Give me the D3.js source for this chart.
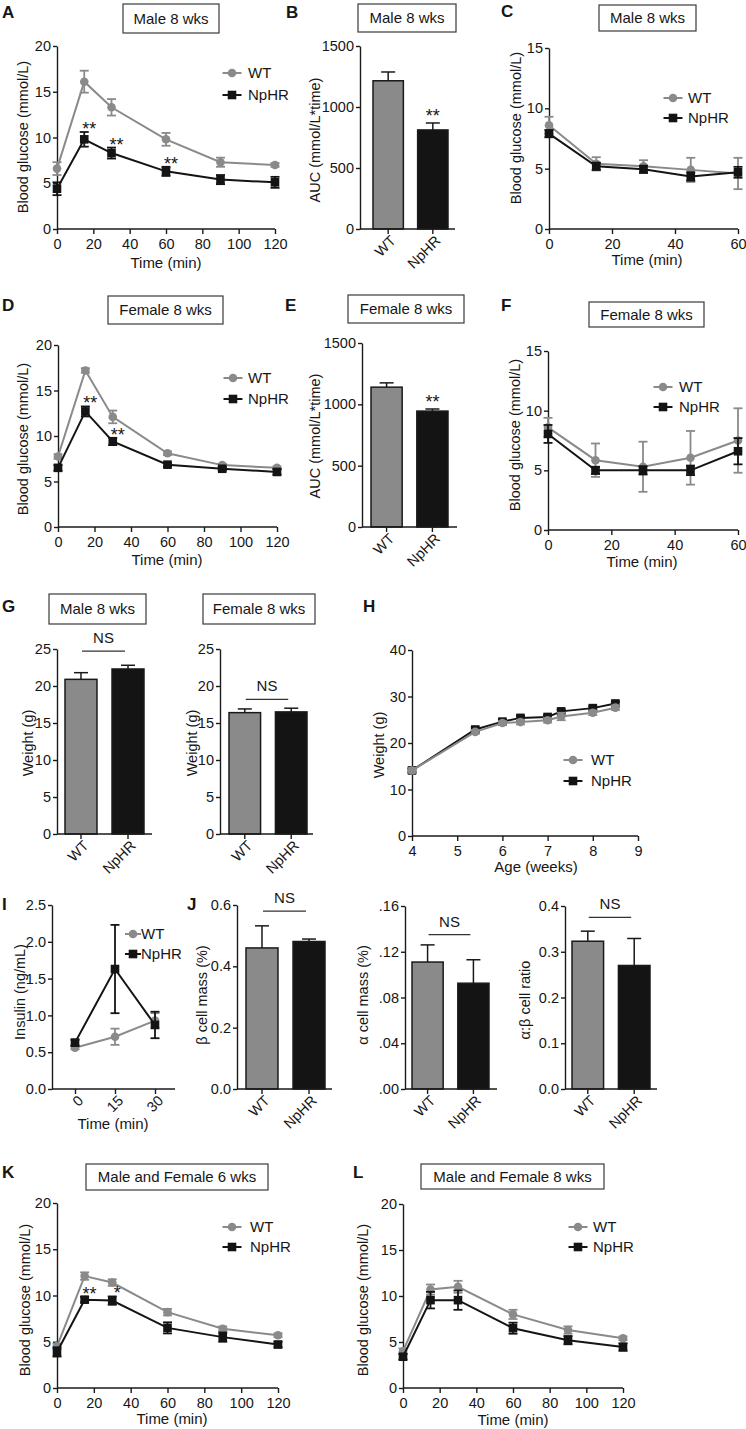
<!DOCTYPE html>
<html><head><meta charset="utf-8">
<script src="https://cdn.jsdelivr.net/npm/d3@7"></script>
<style>
body{margin:0;background:#fff;}
svg text{font-family:"Liberation Sans",Arial,Helvetica,sans-serif;fill:#161616;}
</style></head><body>
<svg id="fig" width="746" height="1429"></svg>
<script>
// ---------------- DATA ----------------
const groups = ["WT", "NpHR"];
const gttTimes = [0, 15, 30, 60, 90, 120];
const ittTimes = [0, 15, 30, 45, 60];

// A  GTT male 8 wks
const gttMale8WT = [6.6, 16.1, 13.3, 9.8, 7.3, 7.0];
const gttMale8WTErr = [0.7, 1.2, 0.9, 0.7, 0.5, 0.2];
const gttMale8NpHR = [4.4, 9.8, 8.3, 6.3, 5.4, 5.1];
const gttMale8NpHRErr = [0.7, 0.8, 0.6, 0.5, 0.5, 0.6];
const starsA = ["", "**", "**", "**", "", ""];
// B  AUC male
const aucMale8 = [1215, 812];
const aucMale8Err = [72, 57];
const starsB = ["", "**"];
// C  ITT male
const ittMale8WT = [8.6, 5.4, 5.2, 4.9, 4.6];
const ittMale8WTErr = [0.7, 0.55, 0.5, 1.0, 1.3];
const ittMale8NpHR = [7.9, 5.2, 4.95, 4.35, 4.7];
const ittMale8NpHRErr = [0.3, 0.3, 0.3, 0.35, 0.45];
// D  GTT female
const gttFemale8WT = [7.75, 17.2, 12.1, 8.1, 6.8, 6.5];
const gttFemale8WTErr = [0.25, 0.25, 0.7, 0.2, 0.15, 0.15];
const gttFemale8NpHR = [6.5, 12.7, 9.4, 6.85, 6.4, 6.05];
const gttFemale8NpHRErr = [0.3, 0.55, 0.4, 0.2, 0.2, 0.3];
const starsD = ["", "**", "**", "", "", ""];
// E  AUC female
const aucFemale8 = [1140, 945];
const aucFemale8Err = [35, 17];
const starsE = ["", "**"];
// F  ITT female
const ittFemale8WT = [8.6, 5.85, 5.3, 6.05, 7.5];
const ittFemale8WTErr = [0.8, 1.4, 2.1, 2.25, 2.7];
const ittFemale8NpHR = [8.05, 5.0, 5.0, 5.0, 6.6];
const ittFemale8NpHRErr = [0.75, 0.3, 0.35, 0.4, 1.1];
// G  body weight
const weightMale8 = [20.9, 22.3];
const weightMale8Err = [0.9, 0.5];
const weightFemale8 = [16.4, 16.5];
const weightFemale8Err = [0.5, 0.5];
// H  weight curve
const ages = [4, 5.4, 6, 6.4, 7, 7.3, 8, 8.5];
const weightWT = [14.1, 22.4, 24.3, 24.5, 24.9, 25.7, 26.5, 27.6];
const weightWTErr = [0.5, 0.4, 0.4, 0.5, 0.5, 0.8, 0.5, 0.5];
const weightNpHR = [14.1, 22.9, 24.6, 25.4, 25.6, 26.8, 27.5, 28.5];
const weightNpHRErr = [0.4, 0.4, 0.4, 0.4, 0.4, 0.4, 0.4, 0.4];
// I  insulin
const insulinTimes = ["0", "15", "30"];
const insulinWT = [0.56, 0.71, 0.93];
const insulinWTErr = [0.02, 0.11, 0.1];
const insulinNpHR = [0.63, 1.63, 0.87];
const insulinNpHRErr = [0.04, 0.6, 0.18];
// J  islet
const betaMass = [0.46, 0.481];
const betaMassErr = [0.072, 0.008];
const alphaMass = [0.111, 0.0925];
const alphaMassErr = [0.015, 0.0205];
const abRatio = [0.323, 0.27];
const abRatioErr = [0.022, 0.059];
// K  GTT mixed 6 wks
const gttMix6WT = [4.5, 12.1, 11.4, 8.2, 6.4, 5.7];
const gttMix6WTErr = [0.3, 0.4, 0.35, 0.35, 0.25, 0.2];
const gttMix6NpHR = [3.9, 9.55, 9.45, 6.5, 5.5, 4.7];
const gttMix6NpHRErr = [0.5, 0.3, 0.45, 0.6, 0.5, 0.3];
const starsK = ["", "**", "*", "", "", ""];
// L  GTT mixed 8 wks
const gttMix8WT = [4.0, 10.7, 11.0, 8.0, 6.3, 5.4];
const gttMix8WTErr = [0.3, 0.55, 0.65, 0.5, 0.4, 0.2];
const gttMix8NpHR = [3.4, 9.55, 9.55, 6.5, 5.2, 4.45];
const gttMix8NpHRErr = [0.3, 0.9, 1.05, 0.6, 0.45, 0.4];

// tick values
const gttTicks = [0, 20, 40, 60, 80, 100, 120];
const glucTicks20 = [0, 5, 10, 15, 20];
const glucTicks15 = [0, 5, 10, 15];
const ittTicks = [0, 20, 40, 60];
const aucTicks = [0, 500, 1000, 1500];
const weightTicks = [0, 5, 10, 15, 20, 25];
const ageTicks = [4, 5, 6, 7, 8, 9];
const weightCurveTicks = [0, 10, 20, 30, 40];
const insulinTicks = [0, 0.5, 1.0, 1.5, 2.0, 2.5];
const betaTicks = [0, 0.2, 0.4, 0.6];
const alphaTicks = [0, 0.04, 0.08, 0.12, 0.16];
const ratioTicks = [0, 0.1, 0.2, 0.3, 0.4];

// ---------------- DRAWING ----------------
const svg = d3.select("#fig");
const INK = "#1a1a1a", GRAY = "#8a8a8a", BLACK = "#141414";
const TICK_FS = 14.5;

function styleAxis(g) {
  g.select(".domain").attr("stroke", INK).attr("stroke-width", 1.4);
  g.selectAll(".tick line").attr("stroke", INK).attr("stroke-width", 1.4);
  g.selectAll(".tick text").attr("font-size", TICK_FS).attr("fill", INK)
    .attr("font-family", '"Liberation Sans",Arial,sans-serif');
}
function titleBox(x, y, w, h, t) {
  svg.append("rect").attr("x", x).attr("y", y).attr("width", w).attr("height", h)
    .attr("fill", "#fff").attr("stroke", "#3a3a3a").attr("stroke-width", 1.2);
  svg.append("text").attr("x", x + w / 2).attr("y", y + h / 2).attr("dy", "0.36em")
    .attr("text-anchor", "middle").attr("font-size", 15).text(t);
}
function letter(x, y, t) {
  svg.append("text").attr("x", x).attr("y", y).attr("font-size", 17).attr("font-weight", "bold").text(t);
}
function yTitle(x, y, t) {
  svg.append("text").attr("transform", `translate(${x},${y}) rotate(-90)`)
    .attr("text-anchor", "middle").attr("dy", "0.35em").attr("font-size", 14.5).text(t);
}
function xTitle(x, y, t) {
  svg.append("text").attr("x", x).attr("y", y).attr("text-anchor", "middle").attr("font-size", 15).text(t);
}
function rotateTicks(g) {
  g.selectAll(".tick text").attr("y", 0).attr("dy", "0.35em").attr("text-anchor", "end")
    .attr("transform", "translate(5,9) rotate(-45)");
}
function marker(g, shape, cx, cy, color) {
  if (shape === "circle") g.append("circle").attr("cx", cx).attr("cy", cy).attr("r", 4.3).attr("fill", color);
  else g.append("rect").attr("x", cx - 4.3).attr("y", cy - 4.3).attr("width", 8.6).attr("height", 8.6).attr("fill", color);
}

function linePanel(p) {
  const g = svg.append("g");
  const x = p.xScale;
  const y = d3.scaleLinear().domain(p.yDomain).range([p.yBot, p.yTop]);
  const gx = g.append("g").attr("transform", `translate(0,${p.yBot})`)
    .call(d3.axisBottom(x).tickValues(p.xTicks).tickSize(5).tickPadding(5).tickSizeOuter(0)
      .tickFormat(p.xFmt || (d => d)));
  gx.select(".domain").attr("d", `M${p.x0},0H${p.x1}`);
  styleAxis(gx);
  if (p.rotX) rotateTicks(gx);
  const gy = g.append("g").attr("transform", `translate(${p.x0},0)`)
    .call(d3.axisLeft(y).tickValues(p.yTicks).tickSize(4).tickPadding(2).tickSizeOuter(0)
      .tickFormat(p.yFmt || (d => d)));
  styleAxis(gy);

  p.series.forEach(s => {
    const pts = s.x.map((t, i) => ({ t, v: s.v[i], e: s.e[i] }));
    g.append("path").datum(pts)
      .attr("d", d3.line().x(d => x(d.t)).y(d => y(d.v)))
      .attr("fill", "none").attr("stroke", s.color).attr("stroke-width", 2);
    pts.forEach(d => {
      const cx = x(d.t), ya = y(d.v + d.e), yb = y(d.v - d.e);
      g.append("line").attr("x1", cx).attr("x2", cx).attr("y1", ya).attr("y2", yb)
        .attr("stroke", s.color).attr("stroke-width", 1.8);
      [ya, yb].forEach(yy => g.append("line").attr("x1", cx - 4.5).attr("x2", cx + 4.5)
        .attr("y1", yy).attr("y2", yy).attr("stroke", s.color).attr("stroke-width", 1.8));
      marker(g, s.shape, cx, y(d.v), s.color);
    });
    if (s.stars) s.stars.forEach((st, i) => {
      if (!st) return;
      g.append("text").attr("x", x(s.x[i]) + 5).attr("y", y(s.v[i] + s.e[i]) + 3)
        .attr("text-anchor", "middle").attr("font-size", 18).text(st);
    });
  });
  // legend (WT first, then NpHR)
  const L = p.legend;
  const legendSeries = p.series.slice().sort((a, b) => groups.indexOf(a.name) - groups.indexOf(b.name));
  legendSeries.forEach((s, i) => {
    const ly = L.y + i * L.dy;
    g.append("line").attr("x1", L.mx - L.hw).attr("x2", L.mx + L.hw).attr("y1", ly).attr("y2", ly)
      .attr("stroke", s.color).attr("stroke-width", 2);
    marker(g, s.shape, L.mx, ly, s.color);
    g.append("text").attr("x", L.tx).attr("y", ly).attr("dy", "0.36em").attr("font-size", 15).text(s.name);
  });
}

function barPanel(p) {
  const g = svg.append("g");
  const xb = d3.scaleBand().domain(groups).range(p.band).paddingInner(0.32);
  const y = d3.scaleLinear().domain(p.yDomain).range([p.yBot, p.yTop]);
  groups.forEach((c, i) => {
    const v = p.vals[i], e = p.errs[i];
    const bx = xb(c), bw = xb.bandwidth(), cx = bx + bw / 2;
    g.append("line").attr("x1", cx).attr("x2", cx).attr("y1", y(v)).attr("y2", y(v + e))
      .attr("stroke", INK).attr("stroke-width", 1.5);
    g.append("line").attr("x1", cx - 7).attr("x2", cx + 7).attr("y1", y(v + e)).attr("y2", y(v + e))
      .attr("stroke", INK).attr("stroke-width", 1.5);
    g.append("rect").attr("x", bx).attr("y", y(v)).attr("width", bw).attr("height", p.yBot - y(v))
      .attr("fill", i === 0 ? GRAY : BLACK).attr("stroke", INK).attr("stroke-width", 1.5);
    if (p.stars && p.stars[i]) {
      g.append("text").attr("x", cx).attr("y", y(v + e) - 1).attr("text-anchor", "middle")
        .attr("font-size", 18).text(p.stars[i]);
    }
  });
  const gx = g.append("g").attr("transform", `translate(0,${p.yBot})`)
    .call(d3.axisBottom(xb).tickSize(5).tickPadding(5).tickSizeOuter(0));
  gx.select(".domain").attr("d", `M${p.x0},0H${p.x1}`);
  styleAxis(gx);
  rotateTicks(gx);
  const gy = g.append("g").attr("transform", `translate(${p.x0},0)`)
    .call(d3.axisLeft(y).tickValues(p.yTicks).tickSize(4).tickPadding(2).tickSizeOuter(0)
      .tickFormat(p.yFmt || (d => d)));
  styleAxis(gy);
  if (p.ns) {
    const ly = y(p.ns);
    const c0 = xb("WT") + xb.bandwidth() / 2 + 1, c1 = xb("NpHR") + xb.bandwidth() / 2 - 3;
    g.append("line").attr("x1", c0).attr("x2", c1).attr("y1", ly).attr("y2", ly)
      .attr("stroke", "#333").attr("stroke-width", 1.2);
    g.append("text").attr("x", (c0 + c1) / 2).attr("y", ly - 8).attr("text-anchor", "middle")
      .attr("font-size", 15).text("NS");
  }
}

const wtStyle = { name: "WT", color: GRAY, shape: "circle" };
const npStyle = { name: "NpHR", color: BLACK, shape: "square" };
const ser = (st, x, v, e, stars) => Object.assign({}, st, { x, v, e, stars });
const lin = (d, r) => d3.scaleLinear().domain(d).range(r);

// ===== Row 1 =====
letter(2, 18, "A"); titleBox(123, 4, 96, 29, "Male 8 wks");
linePanel({ x0: 57, x1: 275, yTop: 46, yBot: 229, xScale: lin([0, 120], [57, 275]), xTicks: gttTicks,
  yDomain: [0, 20], yTicks: glucTicks20,
  series: [ser(wtStyle, gttTimes, gttMale8WT, gttMale8WTErr), ser(npStyle, gttTimes, gttMale8NpHR, gttMale8NpHRErr, starsA)],
  legend: { mx: 232, hw: 9.5, tx: 248, y: 73, dy: 22 } });
yTitle(23, 137, "Blood glucose (mmol/L)"); xTitle(166, 268, "Time (min)");

letter(286, 18, "B"); titleBox(358, 4, 98, 28, "Male 8 wks");
barPanel({ x0: 360, x1: 455, band: [373, 448], yTop: 46, yBot: 229, yDomain: [0, 1500], yTicks: aucTicks,
  vals: aucMale8, errs: aucMale8Err, stars: starsB });
yTitle(315, 140, "AUC (mmol/L*time)");

letter(501, 17, "C"); titleBox(599, 5, 97, 26, "Male 8 wks");
linePanel({ x0: 549, x1: 738, yTop: 48, yBot: 229, xScale: lin([0, 60], [549, 738]), xTicks: ittTicks,
  yDomain: [0, 15], yTicks: glucTicks15,
  series: [ser(wtStyle, ittTimes, ittMale8WT, ittMale8WTErr), ser(npStyle, ittTimes, ittMale8NpHR, ittMale8NpHRErr)],
  legend: { mx: 673, hw: 9.5, tx: 688, y: 98, dy: 20 } });
yTitle(516, 128, "Blood glucose (mmol/L)"); xTitle(647, 265, "Time (min)");

// ===== Row 2 =====
letter(2, 311, "D"); titleBox(108, 296, 115, 28, "Female 8 wks");
linePanel({ x0: 58, x1: 277, yTop: 345, yBot: 527, xScale: lin([0, 120], [58, 277]), xTicks: gttTicks,
  yDomain: [0, 20], yTicks: glucTicks20,
  series: [ser(wtStyle, gttTimes, gttFemale8WT, gttFemale8WTErr), ser(npStyle, gttTimes, gttFemale8NpHR, gttFemale8NpHRErr, starsD)],
  legend: { mx: 233, hw: 9.5, tx: 248, y: 378, dy: 21 } });
yTitle(23, 439, "Blood glucose (mmol/L)"); xTitle(167, 565, "Time (min)");

letter(285, 311, "E"); titleBox(348, 295, 116, 28, "Female 8 wks");
barPanel({ x0: 362, x1: 457, band: [371, 448], yTop: 343, yBot: 527, yDomain: [0, 1500], yTicks: aucTicks,
  vals: aucFemale8, errs: aucFemale8Err, stars: starsE });
yTitle(315, 436, "AUC (mmol/L*time)");

letter(501, 311, "F"); titleBox(589, 302, 115, 25, "Female 8 wks");
linePanel({ x0: 548, x1: 738, yTop: 351, yBot: 530, xScale: lin([0, 60], [548, 738]), xTicks: ittTicks,
  yDomain: [0, 15], yTicks: glucTicks15,
  series: [ser(wtStyle, ittTimes, ittFemale8WT, ittFemale8WTErr), ser(npStyle, ittTimes, ittFemale8NpHR, ittFemale8NpHRErr)],
  legend: { mx: 663, hw: 9.5, tx: 679, y: 387, dy: 20 } });
yTitle(515, 435, "Blood glucose (mmol/L)"); xTitle(642, 567, "Time (min)");

// ===== Row 3 =====
letter(2, 612, "G");
titleBox(49, 594, 97, 30, "Male 8 wks");
barPanel({ x0: 57, x1: 152, band: [65, 144], yTop: 649, yBot: 834, yDomain: [0, 25], yTicks: weightTicks,
  vals: weightMale8, errs: weightMale8Err, ns: 24.7 });
yTitle(28, 743, "Weight (g)");
titleBox(203, 594, 112, 30, "Female 8 wks");
barPanel({ x0: 220, x1: 313, band: [229, 307], yTop: 649, yBot: 834, yDomain: [0, 25], yTicks: weightTicks,
  vals: weightFemale8, errs: weightFemale8Err, ns: 18.2 });
yTitle(192, 743, "Weight (g)");

letter(363, 612, "H");
linePanel({ x0: 412, x1: 638, yTop: 650, yBot: 836, xScale: lin([4, 9], [412, 638]), xTicks: ageTicks,
  yDomain: [0, 40], yTicks: weightCurveTicks,
  series: [ser(npStyle, ages, weightNpHR, weightNpHRErr), ser(wtStyle, ages, weightWT, weightWTErr)],
  legend: { mx: 573, hw: 9.5, tx: 591, y: 760, dy: 21 } });
yTitle(379, 745, "Weight (g)"); xTitle(536, 872, "Age (weeks)");

// ===== Row 4 =====
letter(2, 910, "I");
linePanel({ x0: 52, x1: 175, yTop: 905, yBot: 1089, xScale: d3.scalePoint().domain(insulinTimes).range([75, 155]),
  xTicks: insulinTimes, rotX: true, yDomain: [0, 2.5], yTicks: insulinTicks, yFmt: d3.format(".1f"),
  series: [ser(wtStyle, insulinTimes, insulinWT, insulinWTErr), ser(npStyle, insulinTimes, insulinNpHR, insulinNpHRErr)],
  legend: { mx: 133, hw: 8, tx: 141, y: 934, dy: 20 } });
yTitle(20, 992, "Insulin (ng/mL)"); xTitle(113, 1129, "Time (min)");

letter(187, 910, "J");
barPanel({ x0: 237, x1: 332, band: [246, 325], yTop: 905, yBot: 1089, yDomain: [0, 0.6], yTicks: betaTicks,
  yFmt: d3.format(".1f"), vals: betaMass, errs: betaMassErr, ns: 0.58 });
yTitle(202, 995, "β cell mass (%)");
barPanel({ x0: 405, x1: 497, band: [412, 489], yTop: 906, yBot: 1089, yDomain: [0, 0.16], yTicks: alphaTicks,
  yFmt: d => d3.format(".2f")(d).replace(/^0/, ""), vals: alphaMass, errs: alphaMassErr, ns: 0.135 });
yTitle(363, 995, "α cell mass (%)");
barPanel({ x0: 565, x1: 657, band: [572, 650], yTop: 906, yBot: 1089, yDomain: [0, 0.4], yTicks: ratioTicks,
  yFmt: d3.format(".1f"), vals: abRatio, errs: abRatioErr, ns: 0.375 });
yTitle(525, 1000, "α:β cell ratio");

// ===== Row 5 =====
letter(2, 1178, "K"); titleBox(86, 1164, 182, 26, "Male and Female 6 wks");
linePanel({ x0: 57, x1: 278, yTop: 1203, yBot: 1388, xScale: lin([0, 120], [57, 278]), xTicks: gttTicks,
  yDomain: [0, 20], yTicks: glucTicks20,
  series: [ser(wtStyle, gttTimes, gttMix6WT, gttMix6WTErr), ser(npStyle, gttTimes, gttMix6NpHR, gttMix6NpHRErr, starsK)],
  legend: { mx: 232, hw: 9.5, tx: 250, y: 1227, dy: 20 } });
yTitle(25, 1300, "Blood glucose (mmol/L)"); xTitle(172, 1424, "Time (min)");

letter(353, 1178, "L"); titleBox(421, 1164, 183, 25, "Male and Female 8 wks");
linePanel({ x0: 403, x1: 623, yTop: 1204, yBot: 1388, xScale: lin([0, 120], [403, 623]), xTicks: gttTicks,
  yDomain: [0, 20], yTicks: glucTicks20,
  series: [ser(wtStyle, gttTimes, gttMix8WT, gttMix8WTErr), ser(npStyle, gttTimes, gttMix8NpHR, gttMix8NpHRErr)],
  legend: { mx: 578, hw: 9.5, tx: 593, y: 1227, dy: 20 } });
yTitle(363, 1300, "Blood glucose (mmol/L)"); xTitle(513, 1425, "Time (min)");
</script>
</body></html>
